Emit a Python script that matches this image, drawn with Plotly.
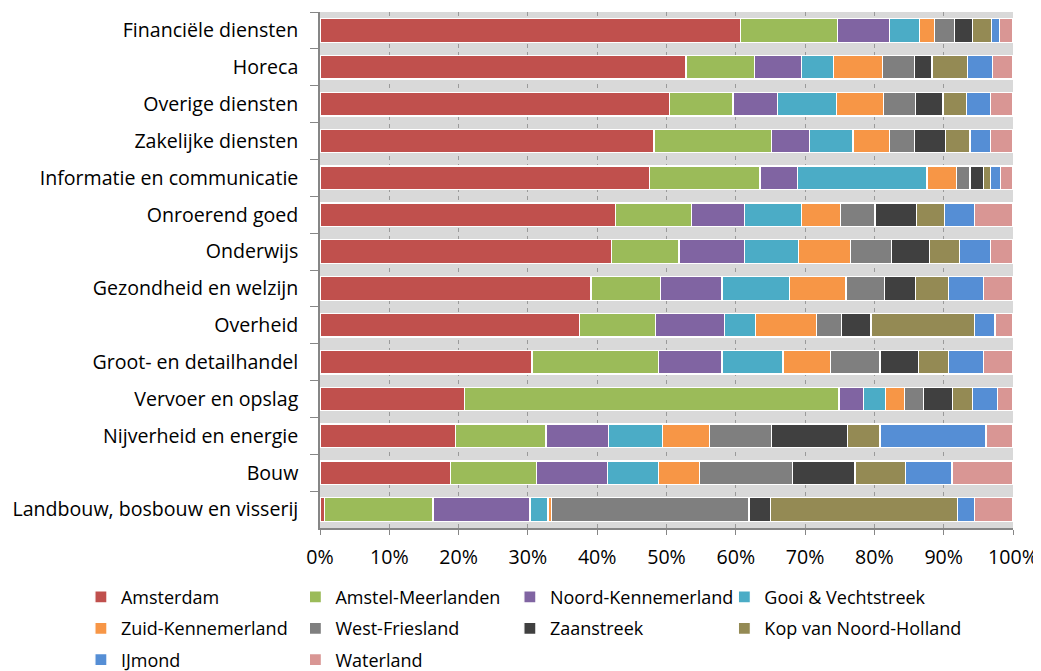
import plotly.graph_objects as go

# sectors, top to bottom as in the report
sectors = [
    "Financiële diensten",
    "Horeca",
    "Overige diensten",
    "Zakelijke diensten",
    "Informatie en communicatie",
    "Onroerend goed",
    "Onderwijs",
    "Gezondheid en welzijn",
    "Overheid",
    "Groot- en detailhandel",
    "Vervoer en opslag",
    "Nijverheid en energie",
    "Bouw",
    "Landbouw, bosbouw en visserij",
]

regions = [
    "Amsterdam",
    "Amstel-Meerlanden",
    "Noord-Kennemerland",
    "Gooi & Vechtstreek",
    "Zuid-Kennemerland",
    "West-Friesland",
    "Zaanstreek",
    "Kop van Noord-Holland",
    "IJmond",
    "Waterland",
]

# share (%) per region, same order as sectors
amsterdam = [60.7, 52.8, 50.4, 48.2, 47.6, 42.6, 42.1, 39.1, 37.5, 30.6, 20.9, 19.6, 18.8, 0.7]
amstel_meerlanden = [14.0, 9.9, 9.2, 16.9, 15.9, 11.0, 9.7, 10.0, 10.9, 18.3, 54.0, 13.0, 12.4, 15.6]
noord_kennemerland = [7.5, 6.8, 6.4, 5.5, 5.4, 7.7, 9.4, 8.9, 10.0, 9.1, 3.5, 9.0, 10.3, 14.0]
gooi_vechtstreek = [4.3, 4.6, 8.5, 6.3, 18.7, 8.2, 7.8, 9.8, 4.4, 8.8, 3.2, 7.8, 7.4, 2.6]
zuid_kennemerland = [2.2, 7.1, 6.8, 5.3, 4.2, 5.6, 7.5, 8.1, 8.8, 6.9, 2.8, 6.8, 5.9, 0.5]
west_friesland = [2.8, 4.6, 4.6, 3.6, 2.0, 5.0, 6.0, 5.6, 3.6, 7.1, 2.7, 9.0, 13.4, 28.5]
zaanstreek = [2.6, 2.5, 4.0, 4.5, 2.0, 6.0, 5.4, 4.4, 4.3, 5.6, 4.2, 10.9, 9.0, 3.1]
kop_van_nh = [2.8, 5.1, 3.4, 3.5, 1.0, 4.0, 4.4, 4.8, 15.0, 4.3, 2.9, 4.7, 7.3, 27.0]
ijmond = [1.2, 3.6, 3.5, 3.0, 1.4, 4.3, 4.4, 5.0, 2.9, 5.1, 3.6, 15.3, 6.7, 2.5]
waterland = [1.9, 3.0, 3.2, 3.2, 1.8, 5.6, 3.3, 4.3, 2.6, 4.2, 2.2, 3.9, 8.8, 5.5]

series = [
    amsterdam, amstel_meerlanden, noord_kennemerland, gooi_vechtstreek,
    zuid_kennemerland, west_friesland, zaanstreek, kop_van_nh, ijmond, waterland,
]

COLOURS = [
    "#C0504D", "#9BBB59", "#8064A2", "#4BACC6", "#F79646",
    "#7F7F7F", "#404040", "#948A54", "#558ED5", "#D99694",
]

FONT = "Open Sans"
# legend is 4 columns x 3 rows, filled row by row -> one vertical legend per column
legend_ids = ["legend", "legend2", "legend3", "legend4"]

fig = go.Figure()
for i, (name, vals, col) in enumerate(zip(regions, series, COLOURS)):
    fig.add_trace(
        go.Bar(
            name=name,
            y=sectors,
            x=vals,
            orientation="h",
            marker=dict(color=col, line=dict(color="white", width=1.2)),
            legend=legend_ids[i % 4],
            legendgroup=name,
        )
    )

legend_style = dict(
    orientation="v",
    y=-0.0983,
    xanchor="left",
    yanchor="top",
    itemwidth=30,
    tracegroupgap=5,
    traceorder="grouped",
    font=dict(family=FONT, size=18, color="black"),
    bgcolor="rgba(0,0,0,0)",
)
col_x = [-0.345, -0.0355, 0.274, 0.5835]

# page body has an 8px margin, so the figure is a bit smaller than the window
fig.update_layout(
    barmode="stack",
    barnorm="percent",
    bargap=0.36,
    width=1033,
    height=663,
    plot_bgcolor="#D9D9D9",
    paper_bgcolor="white",
    font=dict(family=FONT, size=19.6, color="black"),
    margin=dict(l=312, r=28, t=4, b=143, autoexpand=False),
    legend=dict(legend_style, x=col_x[0]),
    legend2=dict(legend_style, x=col_x[1]),
    legend3=dict(legend_style, x=col_x[2]),
    legend4=dict(legend_style, x=col_x[3]),
)

fig.update_xaxes(
    range=[0, 100],
    dtick=10,
    ticksuffix="%",
    showgrid=True,
    gridcolor="#9A9A9A",
    gridwidth=1,
    griddash="4px,4px",
    showline=True,
    linecolor="#868686",
    linewidth=1.5,
    ticks="outside",
    ticklen=5,
    tickcolor="#868686",
    ticklabelstandoff=6,
    zeroline=False,
    automargin=False,
    fixedrange=True,
)

fig.update_yaxes(
    autorange="reversed",
    showgrid=False,
    showline=True,
    linecolor="#868686",
    linewidth=1.5,
    ticks="outside",
    tickson="boundaries",
    ticklen=8,
    tickcolor="#868686",
    ticklabelstandoff=16,
    automargin=False,
    fixedrange=True,
)

fig.write_html("out.html")
